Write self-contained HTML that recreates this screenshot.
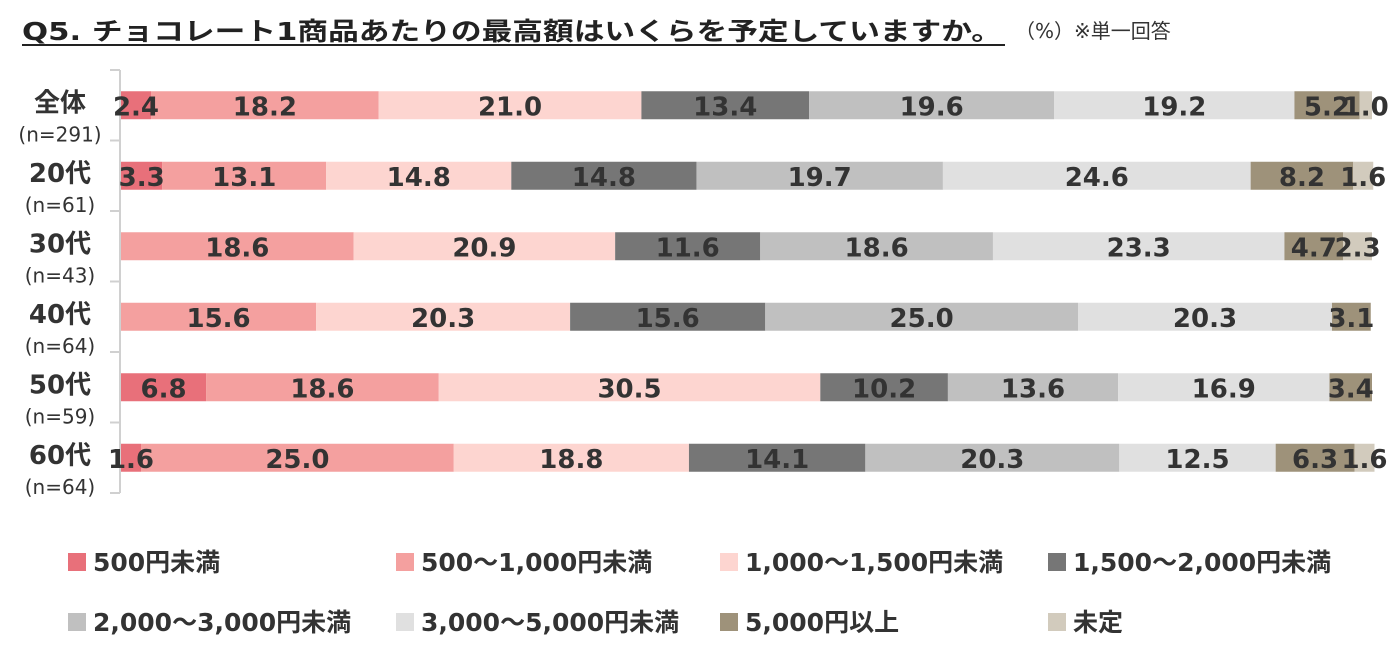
<!DOCTYPE html>
<html><head><meta charset="utf-8">
<style>
body{margin:0;width:1400px;height:657px;background:#fff;overflow:hidden;font-family:"DejaVu Sans","Noto Sans CJK JP",sans-serif;}
</style></head><body>
<svg id="c" width="1400" height="657" xmlns="http://www.w3.org/2000/svg" font-family="DejaVu Sans, Noto Sans CJK JP, sans-serif">
<text x="22" y="40" font-size="25" font-weight="bold" fill="#222" textLength="980" lengthAdjust="spacingAndGlyphs">Q5. チョコレート1商品あたりの最高額はいくらを予定していますか。</text>
<line x1="22" y1="45" x2="1005" y2="45" stroke="#222" stroke-width="2"/>
<text x="1015" y="38" font-size="20" fill="#333">（%）※単一回答</text>
<g id="plot"></g>
<g id="legend"></g>
</svg>
<script>
const categories=["全体","20代","30代","40代","50代","60代"];
const sampleSizes=["(n=291)","(n=61)","(n=43)","(n=64)","(n=59)","(n=64)"];
const seriesNames=["500円未満","500〜1,000円未満","1,000〜1,500円未満","1,500〜2,000円未満","2,000〜3,000円未満","3,000〜5,000円未満","5,000円以上","未定"];
const s500=[2.4,3.3,0,0,6.8,1.6];
const s1000=[18.2,13.1,18.6,15.6,18.6,25.0];
const s1500=[21.0,14.8,20.9,20.3,30.5,18.8];
const s2000=[13.4,14.8,11.6,15.6,10.2,14.1];
const s3000=[19.6,19.7,18.6,25.0,13.6,20.3];
const s5000=[19.2,24.6,23.3,20.3,16.9,12.5];
const s5000up=[5.2,8.2,4.7,3.1,3.4,6.3];
const sUndecided=[1.0,1.6,2.3,0,0,1.6];
const series=[s500,s1000,s1500,s2000,s3000,s5000,s5000up,sUndecided];
const colors=["#e8707a","#f4a09f","#fdd5d0","#767676","#c0c0c0","#e0e0e0","#9e927a","#d2cbbd"];
const NS="http://www.w3.org/2000/svg";
const x0=121,pw=1251,yTop=70,rowH=70.5,barH=28;
const xs=v=>x0+v/100*pw;
const yc=i=>yTop+rowH*(i+0.5);
const plot=document.getElementById('plot');
function mk(tag,attrs,parent){const e=document.createElementNS(NS,tag);for(const k in attrs)e.setAttribute(k,attrs[k]);parent.appendChild(e);return e;}
const axis=mk('line',{x1:120,y1:yTop,x2:120,y2:yTop+rowH*6,stroke:'#d0d0d0','stroke-width':2},plot);


for(let i=0;i<=6;i++){const t=mk('line',{x1:110,x2:120,y1:yTop+rowH*i,y2:yTop+rowH*i,stroke:'#d0d0d0','stroke-width':2},plot);

}
categories.forEach((c,i)=>{
  const y=yc(i);
  const l=mk('text',{x:60,y:y+6,'font-size':26,'font-weight':'bold',fill:'#333','text-anchor':'middle'},plot);l.textContent=c;
  
  
  const n=mk('text',{x:60,y:y+36,'font-size':20,fill:'#333','text-anchor':'middle'},plot);n.textContent=sampleSizes[i];
  
  
  let cum=0;
  series.forEach((s,j)=>{
    const v=s[i];if(!v){return;}
    const r=mk('rect',{x:xs(cum),y:y-barH/2,width:xs(cum+v)-xs(cum),height:barH,fill:colors[j]},plot);
    
    
    cum+=v;
  });
  cum=0;
  series.forEach((s,j)=>{
    const v=s[i];if(!v){return;}
    const t=mk('text',{x:(xs(cum)+xs(cum+v))/2,y:y+10,'font-size':26,'font-weight':'bold',fill:'#333','text-anchor':'middle'},plot);
    t.textContent=v.toFixed(1);
    
    
    cum+=v;
  });
});
const lg=document.getElementById('legend');
const lx=[68,396,720,1048];
seriesNames.forEach((nm,j)=>{
  const x=lx[j%4],y=j<4?562:622;
  const r=mk('rect',{x:x,y:y-9,width:18,height:18,fill:colors[j]},lg);
  
  
  const t=mk('text',{x:x+25,y:y+9,'font-size':25,'font-weight':'bold',fill:'#333'},lg);t.textContent=nm;
  
  
});
</script>
</body></html>
